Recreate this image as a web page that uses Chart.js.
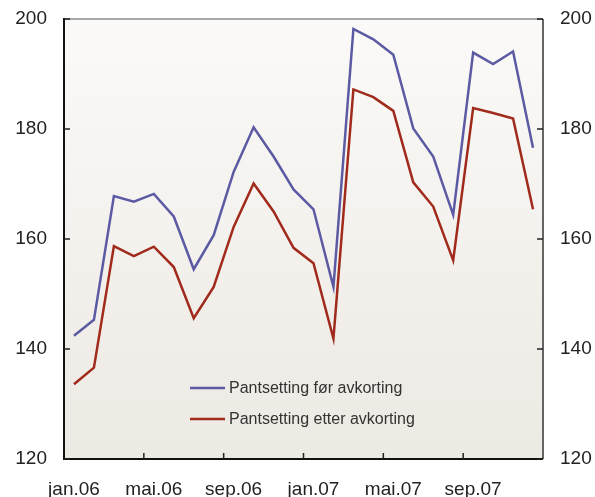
<!DOCTYPE html>
<html>
<head>
<meta charset="utf-8">
<script src="https://cdn.jsdelivr.net/npm/chart.js@4"></script>
<style>
  html, body { margin: 0; padding: 0; background: #fff; }
  #wrap { width: 595px; height: 497px; }
</style>
</head>
<body>
<div id="wrap"><canvas id="chart" width="595" height="497"></canvas></div>
<script>
const maaneder = ['jan.06','feb.06','mar.06','apr.06','mai.06','jun.06','jul.06','aug.06','sep.06','okt.06','nov.06','des.06',
                  'jan.07','feb.07','mar.07','apr.07','mai.07','jun.07','jul.07','aug.07','sep.07','okt.07','nov.07','des.07'];
const forAvkorting = [142.4, 145.3, 167.8, 166.8, 168.2, 164.1, 154.5, 160.7, 172.2, 180.3, 175.0, 169.0,
                      165.4, 151.3, 198.2, 196.3, 193.5, 180.1, 175.0, 164.4, 193.9, 191.8, 194.1, 176.6];
const etterAvkorting = [133.6, 136.6, 158.7, 156.9, 158.6, 154.9, 145.6, 151.3, 162.2, 170.1, 165.0, 158.4,
                        155.6, 141.9, 187.2, 185.8, 183.3, 170.3, 165.9, 156.1, 183.8, 182.9, 181.9, 165.4];
const yTicks = [120, 140, 160, 180, 200];
const serieNavn = ['Pantsetting før avkorting', 'Pantsetting etter avkorting'];
const farger = ['#5b5aa2', '#a02a1b'];

const font = 'Liberation Sans, Arial, sans-serif';

// bakgrunn, ramme og innovervendte tikkmerker
const rammePlugin = {
    id: 'ramme',
    beforeDatasetsDraw(chart) {
        const { ctx, chartArea: a } = chart;
        const g = ctx.createLinearGradient(0, a.top, 0, a.bottom);
        g.addColorStop(0, '#fbfaf8');
        g.addColorStop(1, '#ede9e3');
        ctx.save();
        ctx.fillStyle = g;
        ctx.fillRect(a.left, a.top, a.right - a.left, a.bottom - a.top);
        ctx.restore();
    },
    afterDatasetsDraw(chart) {
        const { ctx, chartArea: a, scales } = chart;
        const x = scales.x, y = scales.y;
        ctx.save();
        // topp
        ctx.strokeStyle = '#555';
        ctx.lineWidth = 1.2;
        ctx.beginPath(); ctx.moveTo(a.left, a.top); ctx.lineTo(a.right, a.top); ctx.stroke();
        // høyre
        ctx.strokeStyle = '#333';
        ctx.lineWidth = 1.5;
        ctx.beginPath(); ctx.moveTo(a.right, a.top); ctx.lineTo(a.right, a.bottom); ctx.stroke();
        // venstre og bunn
        ctx.strokeStyle = '#111';
        ctx.lineWidth = 2;
        ctx.beginPath();
        ctx.moveTo(a.left, a.top - 1); ctx.lineTo(a.left, a.bottom); ctx.lineTo(a.right, a.bottom);
        ctx.stroke();
        // tikk
        ctx.lineWidth = 1.5;
        ctx.strokeStyle = '#222';
        ctx.beginPath();
        yTicks.forEach((v) => {
            const py = y.getPixelForValue(v);
            ctx.moveTo(a.left, py); ctx.lineTo(a.left + 6, py);
            ctx.moveTo(a.right, py); ctx.lineTo(a.right - 6, py);
        });
        for (let i = 4; i < maaneder.length; i += 4) {
            const px = (x.getPixelForValue(i - 1) + x.getPixelForValue(i)) / 2;
            ctx.moveTo(px, a.bottom); ctx.lineTo(px, a.bottom - 6);
        }
        ctx.stroke();
        // legende
        ctx.font = '16px ' + font;
        ctx.textBaseline = 'middle';
        chart.data.datasets.forEach((ds, i) => {
            const ly = 388 + i * 31;
            ctx.strokeStyle = ds.borderColor;
            ctx.lineWidth = 2.5;
            ctx.beginPath(); ctx.moveTo(190, ly); ctx.lineTo(225, ly); ctx.stroke();
            ctx.fillStyle = '#333';
            ctx.fillText(ds.label, 229, ly + 1);
        });
        ctx.restore();
    }
};

const yAkse = (pos, bredde) => ({
    position: pos, min: 120, max: 200,
    grid: { display: false, drawTicks: false },
    border: { display: false },
    afterFit: (s) => { s.width = bredde; s.paddingTop = 0; s.paddingBottom = 0; },
    afterBuildTicks: (s) => { s.ticks = yTicks.map((v) => ({ value: v })); },
    ticks: { padding: 17, color: '#222', font: { family: font, size: 19 } }
});

new Chart(document.getElementById('chart').getContext('2d'), {
    type: 'line',
    data: {
        labels: maaneder,
        datasets: [
            { label: serieNavn[0], data: forAvkorting, borderColor: farger[0], borderWidth: 2.5, pointRadius: 0, tension: 0, yAxisID: 'y' },
            { label: serieNavn[1], data: etterAvkorting, borderColor: farger[1], borderWidth: 2.5, pointRadius: 0, tension: 0, yAxisID: 'y' }
        ]
    },
    options: {
        responsive: false,
        animation: false,
        layout: { padding: { top: 19, left: 0, right: 0, bottom: 0 } },
        plugins: { legend: { display: false }, tooltip: { enabled: false } },
        scales: {
            x: {
                offset: true,
                grid: { display: false, offset: true },
                border: { display: false },
                afterFit: (s) => { s.height = 38; s.paddingLeft = 0; s.paddingRight = 0; },
                ticks: {
                    autoSkip: false, maxRotation: 0, padding: 11,
                    color: '#222', font: { family: font, size: 19 },
                    callback: (v, i) => (i % 4 === 0 ? maaneder[i] : '')
                }
            },
            y: yAkse('left', 64),
            y2: yAkse('right', 52)
        }
    },
    plugins: [rammePlugin]
});
</script>
</body>
</html>
